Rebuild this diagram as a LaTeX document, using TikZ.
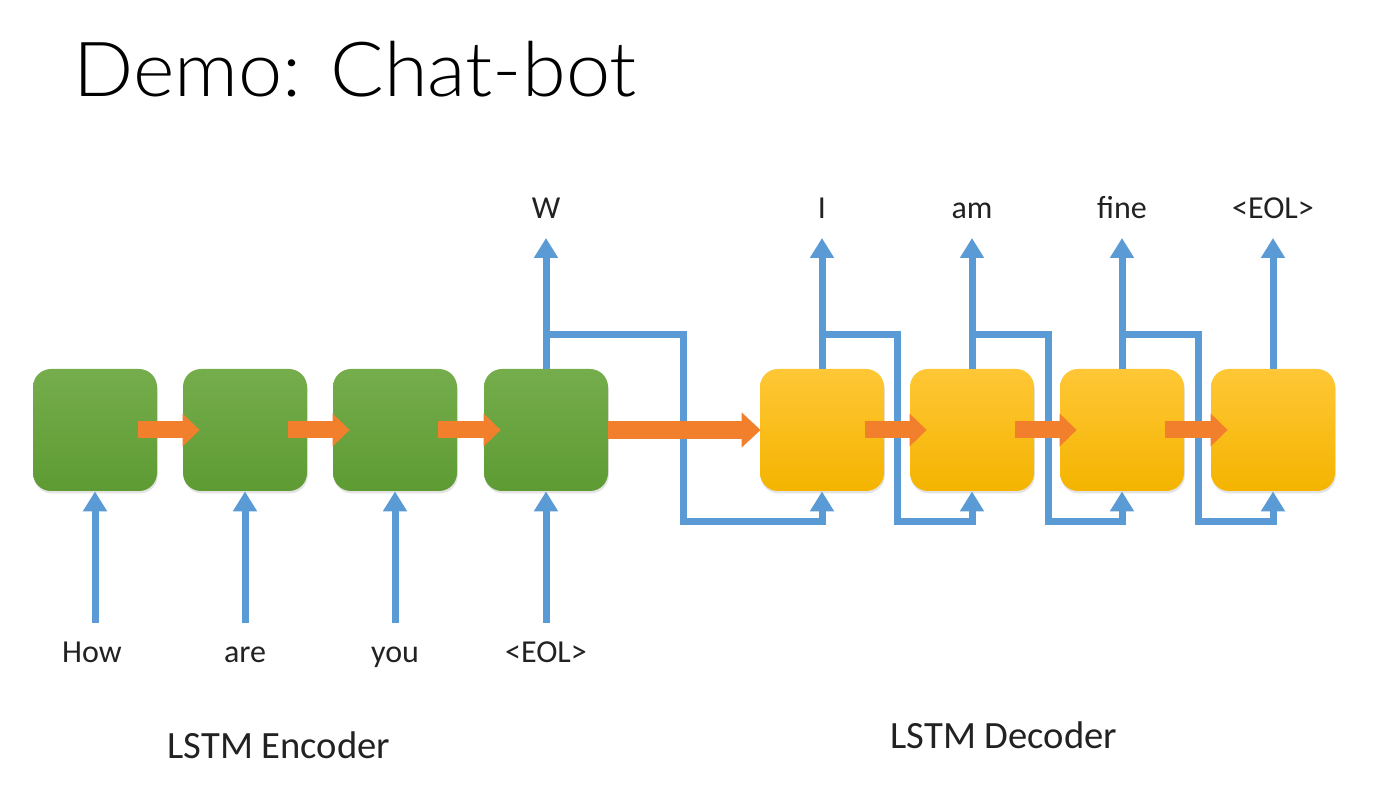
\documentclass[tikz,border=0pt]{standalone}
\usepackage{fontspec}
\setmainfont{Carlito}
\newfontfamily\titlefont{Lato Light}
\usetikzlibrary{arrows.meta,shadows,calc}
\definecolor{lblue}{HTML}{5B9BD5}
\definecolor{lorange}{HTML}{F27F2C}
\definecolor{gtop}{HTML}{75AD4C}
\definecolor{gbot}{HTML}{5E9B33}
\definecolor{ytop}{HTML}{FFC736}
\definecolor{ybot}{HTML}{F4B400}
\definecolor{txt}{HTML}{222222}
\tikzset{
  cell/.style={minimum width=62pt, minimum height=61pt, inner sep=0pt,
    rounded corners=9pt, drop shadow={opacity=0.22, shadow xshift=0.4pt, shadow yshift=-1.2pt}},
  enc/.style={cell, top color=gtop, bottom color=gbot},
  dec/.style={cell, top color=ytop, bottom color=ybot},
  barrow/.style={draw=lblue, line width=3.5pt, -{Triangle[length=10pt,width=11.5pt]}},
  oarrow/.style={draw=lorange, line width=8.5pt, -{Triangle[length=8.5pt,width=16pt]}},
  obig/.style={draw=lorange, line width=9pt, -{Triangle[length=9.5pt,width=17pt]}},
  lbl/.style={font=\fontsize{16}{19}\selectfont, text=txt, inner sep=0pt, anchor=base},
  captionlbl/.style={font=\fontsize{19.3}{23}\selectfont, text=txt, inner sep=0pt, anchor=base},
}
\begin{document}
\begin{tikzpicture}[x=0.5pt,y=-0.5pt]
\useasboundingbox[fill=white] (0,0) rectangle (1376,801);

% title
\node[font=\titlefont\fontsize{38}{44}\selectfont, text=black, inner sep=0pt, anchor=base west] (title) at (73,97) {\scalebox{1.044}[1]{Demo: Chat-bot}};

% boxes
\node[enc] (e1) at (95,430) {};
\node[enc] (e2) at (245,430) {};
\node[enc] (e3) at (395,430) {};
\node[enc] (e4) at (546,430) {};
\node[dec] (d1) at (822,430) {};
\node[dec] (d2) at (972,430) {};
\node[dec] (d3) at (1122,430) {};
\node[dec] (d4) at (1273,430) {};

% helper levels
\coordinate (fy) at (0,335);
\coordinate (iy) at (0,623);
\coordinate (oy) at (0,238);
\coordinate (f0) at (683,522);
\coordinate (f1) at (897,522);
\coordinate (f2) at (1048,522);
\coordinate (f3) at (1198,522);

% input labels and arrows
\node[lbl] (in1) at (92,662) {How};
\node[lbl] (in2) at (245,662) {are};
\node[lbl] (in3) at (395,662) {you};
\node[lbl] (in4) at (546,662) {<EOL>};
\foreach \b in {e1,e2,e3,e4}{
  \draw[barrow] (\b.south |- iy) -- (\b.south);
}

% output labels and arrows
\node[lbl] (ow) at (546,219) {W};
\node[lbl] (o1) at (822,219) {I};
\node[lbl] (o2) at (972,219) {am};
\node[lbl] (o3) at (1122,219) {fine};
\node[lbl] (o4) at (1273,219) {<EOL>};
\foreach \b in {e4,d1,d2,d3,d4}{
  \draw[barrow] (\b.north) -- (\b.north |- oy);
}

% feedback connections
\draw[barrow] (e4.center |- fy) -| (f0) -| (d1.south);
\draw[barrow] (d1.center |- fy) -| (f1) -| (d2.south);
\draw[barrow] (d2.center |- fy) -| (f2) -| (d3.south);
\draw[barrow] (d3.center |- fy) -| (f3) -| (d4.south);

% orange state arrows
\draw[oarrow] ($(e1.east)+(-19,0)$) -- ($(e2.west)+(17,0)$);
\draw[oarrow] ($(e2.east)+(-19,0)$) -- ($(e3.west)+(17,0)$);
\draw[oarrow] ($(e3.east)+(-19,0)$) -- ($(e4.west)+(17,0)$);
\draw[obig] (e4.east) -- ($(d1.west)+(1,0)$);
\draw[oarrow] ($(d1.east)+(-19,0)$) -- ($(d2.west)+(17,0)$);
\draw[oarrow] ($(d2.east)+(-19,0)$) -- ($(d3.west)+(17,0)$);
\draw[oarrow] ($(d3.east)+(-19,0)$) -- ($(d4.west)+(17,0)$);

% captions
\node[captionlbl] (encl) at (279,758) {LSTM Encoder};
\node[captionlbl] (decl) at (1004,748) {LSTM Decoder};
\end{tikzpicture}
\end{document}
